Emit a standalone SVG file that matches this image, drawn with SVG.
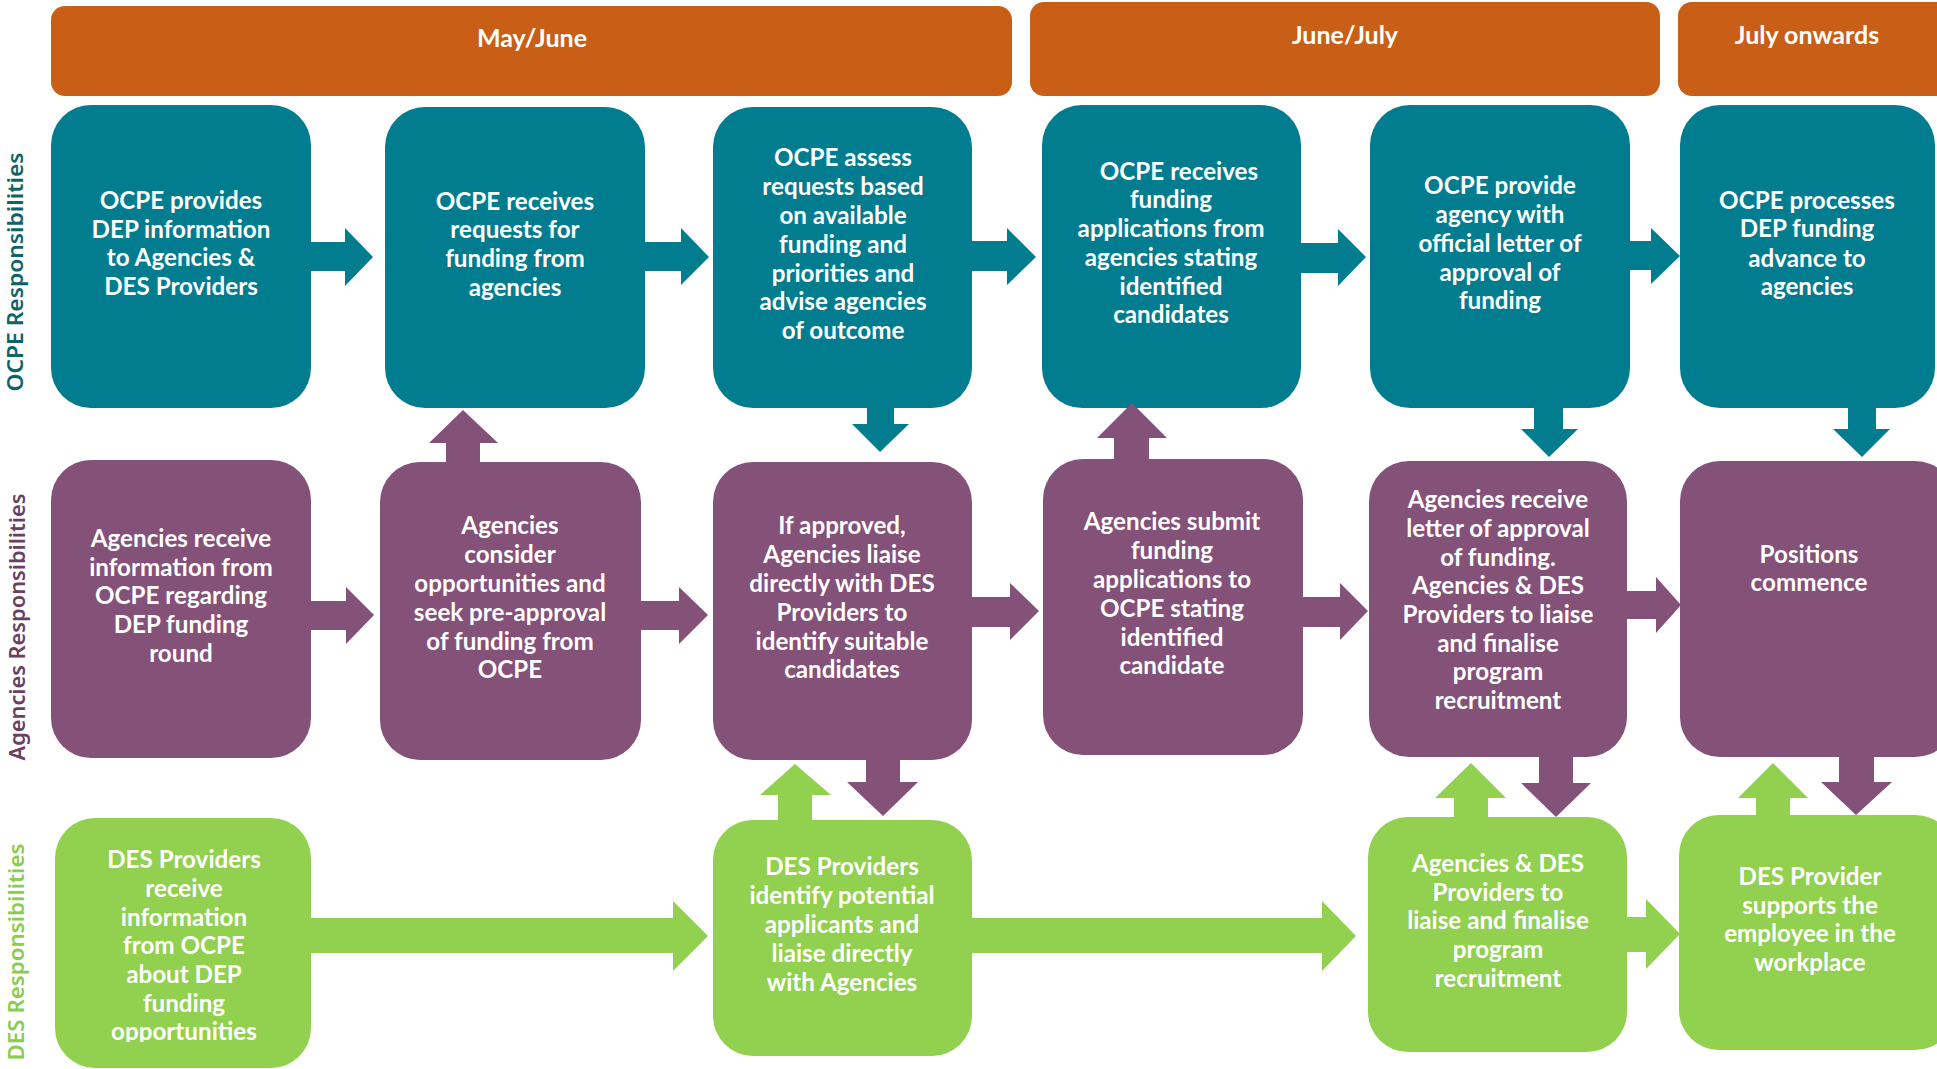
<svg xmlns="http://www.w3.org/2000/svg" width="1937" height="1069" viewBox="0 0 1937 1069">
<style>
.hdr{fill:#C95F17}
.teal{fill:#017D8F}
.purp{fill:#845178}
.grn{fill:#92D050}
.ht{font-family:Lato,"Liberation Sans",sans-serif;font-weight:700;font-size:25px;fill:#fff;text-anchor:middle}
.nt{font-family:Lato,"Liberation Sans",sans-serif;font-weight:700;font-size:24.2px;fill:#fff;text-anchor:middle}
.lab{font-family:"Noto Sans","Liberation Sans",sans-serif;font-weight:600;font-size:22px;text-anchor:middle}
</style>
<defs>
<clipPath id="clipG1"><rect x="0" y="0" width="1937" height="1042"/></clipPath>
</defs>
<rect width="1937" height="1069" fill="#fff"/>

<g id="headers">
<g id="hdr-mayjune"><rect class="hdr" x="51" y="6" width="961" height="90" rx="14"/><text class="ht" x="532" y="47">May/June</text></g>
<g id="hdr-junejuly"><rect class="hdr" x="1030" y="2" width="630" height="94" rx="14"/><text class="ht" x="1345" y="44">June/July</text></g>
<g id="hdr-julyon"><rect class="hdr" x="1678" y="2" width="275" height="94" rx="14"/><text class="ht" x="1807" y="44">July onwards</text></g>
</g>

<g id="lane-labels">
<text class="lab" fill="#0E6468" transform="translate(23,272) rotate(-90)" textLength="239" lengthAdjust="spacingAndGlyphs">OCPE Responsibilities</text>
<text class="lab" fill="#6A3F62" transform="translate(25,627) rotate(-90)" textLength="267" lengthAdjust="spacingAndGlyphs">Agencies Responsibilities</text>
<text class="lab" fill="#8CCB50" transform="translate(24,952) rotate(-90)" textLength="217" lengthAdjust="spacingAndGlyphs">DES Responsibilities</text>
</g>

<!-- Row 1: OCPE -->
<g id="ocpe1"><rect class="teal" x="51" y="105" width="260" height="303" rx="40"/>
<text class="nt"><tspan x="181" y="209">OCPE provides</tspan><tspan x="181" y="238">DEP information</tspan><tspan x="181" y="266">to Agencies &amp;</tspan><tspan x="181" y="295">DES Providers</tspan></text></g>
<g id="ocpe2"><rect class="teal" x="385" y="107" width="260" height="301" rx="40"/>
<text class="nt"><tspan x="515" y="210">OCPE receives</tspan><tspan x="515" y="238">requests for</tspan><tspan x="515" y="267">funding from</tspan><tspan x="515" y="296">agencies</tspan></text></g>
<g id="ocpe3"><rect class="teal" x="713" y="107" width="259" height="301" rx="40"/>
<text class="nt"><tspan x="843" y="166">OCPE assess</tspan><tspan x="843" y="195">requests based</tspan><tspan x="843" y="224">on available</tspan><tspan x="843" y="253">funding and</tspan><tspan x="843" y="282">priorities and</tspan><tspan x="843" y="310">advise agencies</tspan><tspan x="843" y="339">of outcome</tspan></text></g>
<g id="ocpe4"><rect class="teal" x="1042" y="105" width="259" height="303" rx="40"/>
<text class="nt"><tspan x="1179" y="180">OCPE receives</tspan><tspan x="1171" y="208">funding</tspan><tspan x="1171" y="237">applications from</tspan><tspan x="1171" y="266">agencies stating</tspan><tspan x="1171" y="295">identified</tspan><tspan x="1171" y="323">candidates</tspan></text></g>
<g id="ocpe5"><rect class="teal" x="1370" y="105" width="260" height="303" rx="40"/>
<text class="nt"><tspan x="1500" y="194">OCPE provide</tspan><tspan x="1500" y="223">agency with</tspan><tspan x="1500" y="252">official letter of</tspan><tspan x="1500" y="281">approval of</tspan><tspan x="1500" y="309">funding</tspan></text></g>
<g id="ocpe6"><rect class="teal" x="1680" y="105" width="255" height="303" rx="40"/>
<text class="nt"><tspan x="1807" y="209">OCPE processes</tspan><tspan x="1807" y="237">DEP funding</tspan><tspan x="1807" y="267">advance to</tspan><tspan x="1807" y="295">agencies</tspan></text></g>

<!-- Row 2: Agencies -->
<g id="ag1"><rect class="purp" x="51" y="460" width="260" height="298" rx="40"/>
<text class="nt"><tspan x="181" y="547">Agencies receive</tspan><tspan x="181" y="576">information from</tspan><tspan x="181" y="604">OCPE regarding</tspan><tspan x="181" y="633">DEP funding</tspan><tspan x="181" y="662">round</tspan></text></g>
<g id="ag2"><rect class="purp" x="380" y="462" width="261" height="298" rx="40"/>
<text class="nt"><tspan x="510" y="534">Agencies</tspan><tspan x="510" y="563">consider</tspan><tspan x="510" y="592">opportunities and</tspan><tspan x="510" y="621">seek pre-approval</tspan><tspan x="510" y="650">of funding from</tspan><tspan x="510" y="678">OCPE</tspan></text></g>
<g id="ag3"><rect class="purp" x="713" y="462" width="259" height="298" rx="40"/>
<text class="nt"><tspan x="842" y="534">If approved,</tspan><tspan x="842" y="563">Agencies liaise</tspan><tspan x="842" y="592">directly with DES</tspan><tspan x="842" y="621">Providers to</tspan><tspan x="842" y="650">identify suitable</tspan><tspan x="842" y="678">candidates</tspan></text></g>
<g id="ag4"><rect class="purp" x="1043" y="459" width="260" height="296" rx="40"/>
<text class="nt"><tspan x="1172" y="530">Agencies submit</tspan><tspan x="1172" y="559">funding</tspan><tspan x="1172" y="588">applications to</tspan><tspan x="1172" y="617">OCPE stating</tspan><tspan x="1172" y="646">identified</tspan><tspan x="1172" y="674">candidate</tspan></text></g>
<g id="ag5"><rect class="purp" x="1369" y="461" width="258" height="296" rx="40"/>
<text class="nt"><tspan x="1498" y="508">Agencies receive</tspan><tspan x="1498" y="537">letter of approval</tspan><tspan x="1498" y="566">of funding.</tspan><tspan x="1498" y="594">Agencies &amp; DES</tspan><tspan x="1498" y="623">Providers to liaise</tspan><tspan x="1498" y="652">and finalise</tspan><tspan x="1498" y="680">program</tspan><tspan x="1498" y="709">recruitment</tspan></text></g>
<g id="ag6"><rect class="purp" x="1680" y="461" width="275" height="296" rx="40"/>
<text class="nt"><tspan x="1809" y="563">Positions</tspan><tspan x="1809" y="591">commence</tspan></text></g>

<!-- Row 3: DES -->
<g id="des1"><rect class="grn" x="55" y="818" width="256" height="250" rx="40"/>
<text class="nt" clip-path="url(#clipG1)"><tspan x="184" y="868">DES Providers</tspan><tspan x="184" y="897">receive</tspan><tspan x="184" y="926">information</tspan><tspan x="184" y="954">from OCPE</tspan><tspan x="184" y="983">about DEP</tspan><tspan x="184" y="1012">funding</tspan><tspan x="184" y="1040">opportunities</tspan></text></g>
<g id="des2"><rect class="grn" x="713" y="820" width="259" height="236" rx="40"/>
<text class="nt"><tspan x="842" y="875">DES Providers</tspan><tspan x="842" y="904">identify potential</tspan><tspan x="842" y="933">applicants and</tspan><tspan x="842" y="962">liaise directly</tspan><tspan x="842" y="991">with Agencies</tspan></text></g>
<g id="des3"><rect class="grn" x="1368" y="817" width="259" height="235" rx="40"/>
<text class="nt"><tspan x="1498" y="872">Agencies &amp; DES</tspan><tspan x="1498" y="901">Providers to</tspan><tspan x="1498" y="929">liaise and finalise</tspan><tspan x="1498" y="958">program</tspan><tspan x="1498" y="987">recruitment</tspan></text></g>
<g id="des4"><rect class="grn" x="1679" y="815" width="276" height="235" rx="40"/>
<text class="nt"><tspan x="1810" y="885">DES Provider</tspan><tspan x="1810" y="914">supports the</tspan><tspan x="1810" y="942">employee in the</tspan><tspan x="1810" y="971">workplace</tspan></text></g>

<g id="connectors">
<!-- row 1 horizontal (teal) -->
<polygon class="teal" points="305,242 345,242 345,228 373,257 345,286 345,271 305,271"/>
<polygon class="teal" points="640,242 681,242 681,228 709,257 681,285 681,271 640,271"/>
<polygon class="teal" points="968,241 1007,241 1007,228 1036,257 1007,285 1007,271 968,271"/>
<polygon class="teal" points="1297,243 1338,243 1338,229 1366,257 1338,286 1338,273 1297,273"/>
<polygon class="teal" points="1625,241 1651,241 1651,228 1680,256 1651,284 1651,270 1625,270"/>
<!-- row1 -> row2 down (teal) -->
<polygon class="teal" points="867,404 894,404 894,424 909,424 880,452 852,424 867,424"/>
<polygon class="teal" points="1534,404 1563,404 1563,429 1578,429 1549,457 1521,429 1534,429"/>
<polygon class="teal" points="1848,404 1876,404 1876,429 1890,429 1862,457 1833,429 1848,429"/>
<!-- row2 -> row1 up (purple) -->
<polygon class="purp" points="446,466 480,466 480,443 498,443 463,410 429,443 446,443"/>
<polygon class="purp" points="1114,463 1149,463 1149,438 1167,438 1132,403 1097,438 1114,438"/>
<!-- row 2 horizontal (purple) -->
<polygon class="purp" points="305,601 346,601 346,587 374,615 346,644 346,630 305,630"/>
<polygon class="purp" points="636,601 679,601 679,587 708,615 679,644 679,630 636,630"/>
<polygon class="purp" points="968,597 1010,597 1010,583 1039,611 1010,640 1010,627 968,627"/>
<polygon class="purp" points="1298,597 1340,597 1340,583 1368,611 1340,640 1340,627 1298,627"/>
<polygon class="purp" points="1622,591 1656,591 1656,577 1681,605 1656,633 1656,619 1622,619"/>
<!-- row2 -> row3 down (purple) -->
<polygon class="purp" points="866,755 900,755 900,782 918,782 883,816 847,782 866,782"/>
<polygon class="purp" points="1539,752 1573,752 1573,783 1591,783 1556,817 1521,783 1539,783"/>
<polygon class="purp" points="1839,752 1874,752 1874,782 1892,782 1856,815 1821,782 1839,782"/>
<!-- row3 -> row2 up (green) -->
<polygon class="grn" points="778,824 812,824 812,795 831,795 795,764 760,795 778,795"/>
<polygon class="grn" points="1454,821 1488,821 1488,798 1506,798 1471,763 1435,798 1454,798"/>
<polygon class="grn" points="1756,819 1790,819 1790,798 1808,798 1773,763 1738,798 1756,798"/>
<!-- row 3 horizontal (green) -->
<polygon class="grn" points="305,918 673,918 673,901 708,936 673,971 673,953 305,953"/>
<polygon class="grn" points="968,918 1322,918 1322,901 1356,936 1322,971 1322,953 968,953"/>
<polygon class="grn" points="1622,917 1646,917 1646,899 1680,934 1646,969 1646,952 1622,952"/>
</g>
</svg>
